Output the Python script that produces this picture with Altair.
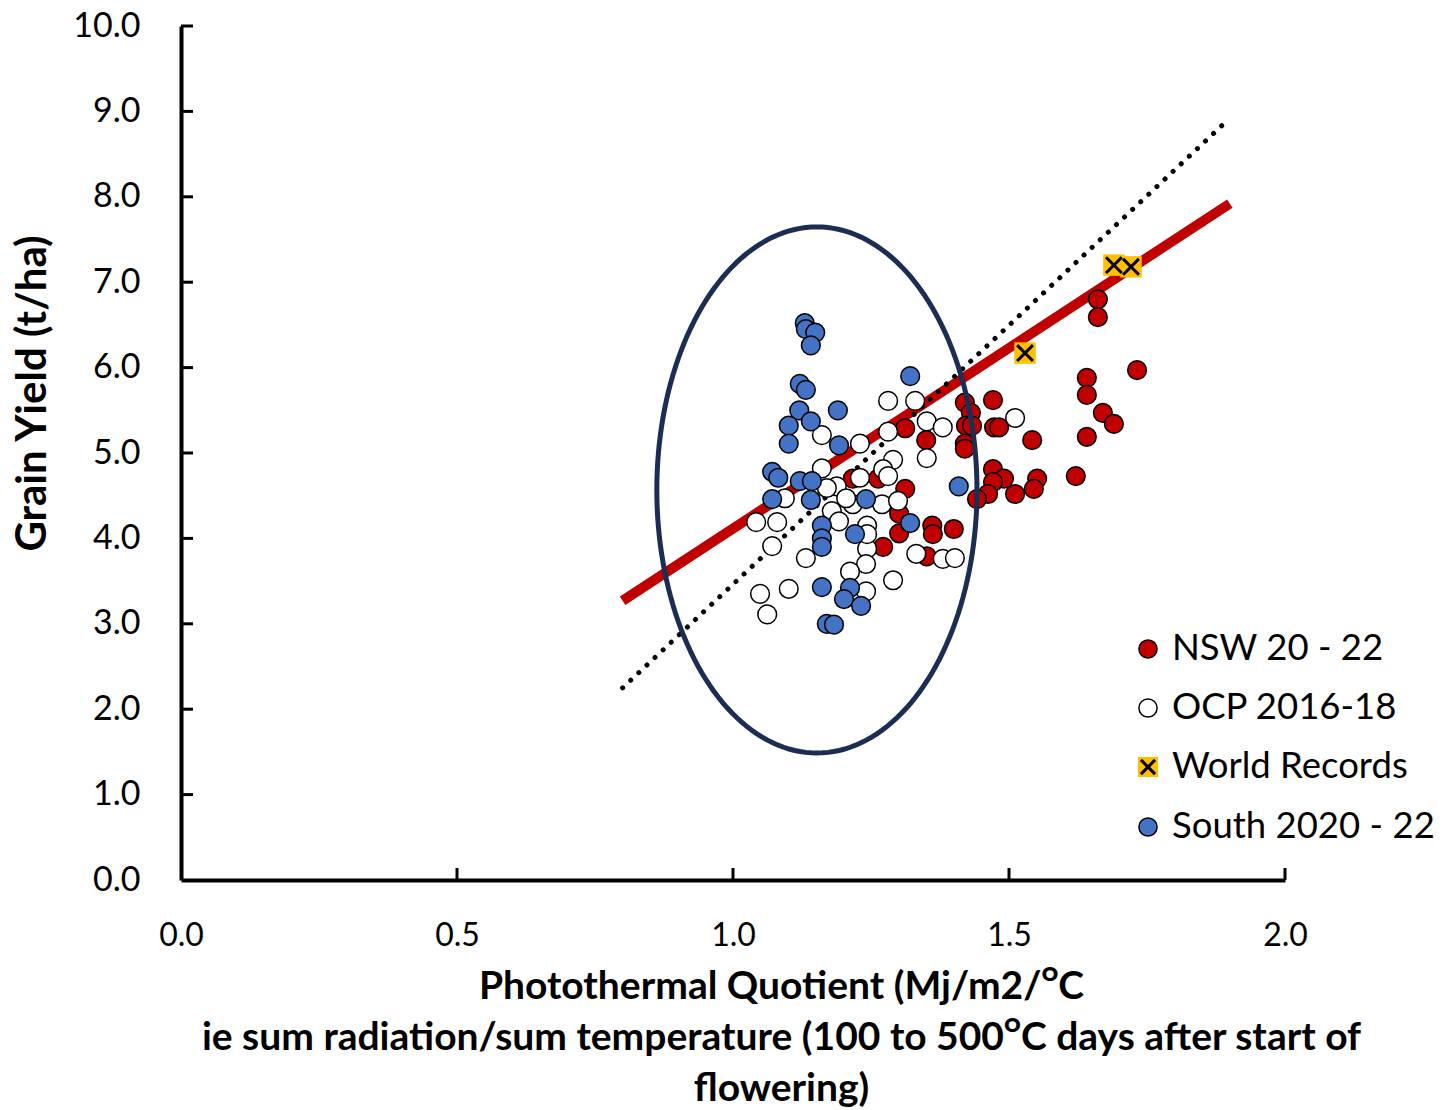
import altair as alt
import pandas as pd
import numpy as np

# ---------------- data ----------------
nsw_x = [1.312, 1.350, 1.420, 1.431, 1.422, 1.433, 1.420, 1.420, 1.471, 1.473, 1.482,
         1.542, 1.641, 1.641, 1.670, 1.690, 1.641, 1.732, 1.661, 1.661, 1.471, 1.491,
         1.471, 1.462, 1.442, 1.511, 1.551, 1.545, 1.621, 1.312, 1.301, 1.301, 1.361,
         1.362, 1.400, 1.272, 1.351, 1.217, 1.263]
nsw_y = [5.29, 5.15, 5.59, 5.47, 5.32, 5.32, 5.11, 5.05, 5.62, 5.30, 5.30,
         5.15, 5.88, 5.68, 5.47, 5.34, 5.19, 5.97, 6.80, 6.59, 4.81, 4.70,
         4.66, 4.52, 4.46, 4.52, 4.70, 4.58, 4.73, 4.58, 4.29, 4.06, 4.15,
         4.05, 4.11, 3.90, 3.79, 4.70, 4.70]

ocp_x = [1.161, 1.230, 1.161, 1.281, 1.330, 1.351, 1.380, 1.281, 1.351, 1.290, 1.272,
         1.281, 1.511, 1.230, 1.188, 1.170, 1.094, 1.042, 1.080, 1.179, 1.192, 1.217,
         1.270, 1.299, 1.243, 1.071, 1.132, 1.243, 1.241, 1.212, 1.241, 1.049, 1.101,
         1.062, 1.332, 1.380, 1.402, 1.290, 1.205, 1.243]
ocp_y = [5.21, 5.11, 4.82, 5.61, 5.61, 5.37, 5.30, 5.25, 4.94, 4.92, 4.81,
         4.73, 5.41, 4.71, 4.61, 4.59, 4.47, 4.19, 4.19, 4.32, 4.20, 4.40,
         4.40, 4.44, 4.15, 3.91, 3.77, 3.88, 3.70, 3.61, 3.38, 3.35, 3.41,
         3.11, 3.82, 3.76, 3.77, 3.51, 4.47, 4.05]

wr_x = [1.690, 1.721, 1.529]
wr_y = [7.20, 7.18, 6.17]

south_x = [1.130, 1.132, 1.149, 1.141, 1.121, 1.132, 1.120, 1.190, 1.141, 1.101, 1.101,
           1.192, 1.321, 1.071, 1.082, 1.121, 1.143, 1.071, 1.141, 1.241, 1.161, 1.161,
           1.161, 1.221, 1.161, 1.212, 1.201, 1.232, 1.170, 1.183, 1.321, 1.409]
south_y = [6.52, 6.45, 6.41, 6.26, 5.81, 5.74, 5.50, 5.50, 5.37, 5.32, 5.11,
           5.09, 5.90, 4.78, 4.71, 4.67, 4.67, 4.46, 4.45, 4.46, 4.15, 4.00,
           3.90, 4.05, 3.43, 3.42, 3.29, 3.21, 3.00, 2.99, 4.18, 4.61]

series_names = ["NSW 20 - 22", "OCP 2016-18", "World Records", "South 2020 - 22"]

trend_x = [0.80, 1.90]
trend_y = [3.27, 7.92]
dotted_x = [0.80, 1.89]
dotted_y = [2.25, 8.86]

ellipse_center = (1.152, 4.567)
ellipse_radii = (0.29, 3.08)

x_ticks = [0.0, 0.5, 1.0, 1.5, 2.0]
y_ticks = [0, 1, 2, 3, 4, 5, 6, 7, 8, 9, 10]

x_title = ["Photothermal Quotient (Mj/m2/ᴼC",
           "ie sum radiation/sum temperature (100 to 500ᴼC days after start of",
           "flowering)"]
y_title = "Grain Yield (t/ha)"

# ---------------- style ----------------
W, H = 1104, 854
FONT = "Lato"
RED, BLUE, GOLD, NAVY = "#C00000", "#4472C4", "#FFC000", "#1B2D52"

xs = alt.Scale(domain=[0, 2], nice=False, zero=False)
ys = alt.Scale(domain=[0, 10], nice=False, zero=False)

x_axis = alt.Axis(values=x_ticks, format=".1f", title=x_title,
                  labelPadding=40, labelFlush=False, labelFontSize=32,
                  titleFontSize=39, titleX=600, titleY=87, titleBaseline="top",
                  titleAlign="center", titleLineHeight=51)
y_axis = alt.Axis(values=y_ticks, format=".1f", title=y_title,
                  labelPadding=41, labelFlush=False, labelFontSize=34,
                  titleFontSize=42, titleX=-149, titleY=367, titleAlign="center",
                  titleBaseline="middle", titleAngle=270)

X = lambda: alt.X("x:Q", scale=xs, axis=x_axis)
Y = lambda: alt.Y("y:Q", scale=ys, axis=y_axis)

def pts(xv, yv):
    return pd.DataFrame({"x": xv, "y": yv})

trend = alt.Chart(pts(trend_x, trend_y)).mark_line(
    color=RED, strokeWidth=10, strokeCap="butt").encode(x=X(), y=Y())
dotted = alt.Chart(pts(dotted_x, dotted_y)).mark_line(
    color="black", strokeWidth=5, strokeCap="round", strokeDash=[0.1, 11]).encode(x=X(), y=Y())

def circles(xv, yv, fill):
    return alt.Chart(pts(xv, yv)).mark_point(
        shape="circle", filled=True, fill=fill, stroke="black", strokeWidth=1.5,
        size=350, opacity=1).encode(x=X(), y=Y())

nsw = circles(nsw_x, nsw_y, RED)
ocp = circles(ocp_x, ocp_y, "white")
south = circles(south_x, south_y, BLUE)
wr_sq = alt.Chart(pts(wr_x, wr_y)).mark_point(
    shape="square", filled=True, fill=GOLD, strokeWidth=0, size=460, opacity=1).encode(x=X(), y=Y())
XPATH = "M-1,-1L1,1M-1,1L1,-1"
wr_x_mark = alt.Chart(pts(wr_x, wr_y)).mark_point(
    shape=XPATH, filled=False, stroke="black", strokeWidth=3, size=250, opacity=1).encode(x=X(), y=Y())

t = np.linspace(0, 2 * np.pi, 181)
ell_df = pd.DataFrame({
    "x": ellipse_center[0] + ellipse_radii[0] * np.cos(t),
    "y": ellipse_center[1] + ellipse_radii[1] * np.sin(t),
    "o": np.arange(len(t)),
})
ellipse = alt.Chart(ell_df).mark_line(color=NAVY, strokeWidth=5).encode(
    x=X(), y=Y(), order="o:Q")

# inward ticks
ytick_df = pd.DataFrame({"y": y_ticks[1:]})
yticks = alt.Chart(ytick_df).mark_rule(color="black", strokeWidth=3).encode(
    y=Y(), x=alt.value(0), x2=alt.value(12))
xtick_df = pd.DataFrame({"x": x_ticks[1:]})
xticks = alt.Chart(xtick_df).mark_rule(color="black", strokeWidth=3).encode(
    x=X(), y=alt.value(H), y2=alt.value(H - 12))

# legend (manual)
leg_rows = [623, 682, 741, 801]
leg_layers = []
fills = [RED, "white", None, BLUE]
for name, fy, fc in zip(series_names, leg_rows, fills):
    d = pd.DataFrame({"label": [name]})
    if fc is None:
        leg_layers.append(alt.Chart(d).mark_point(
            shape="square", filled=True, fill=GOLD, strokeWidth=0, size=400, opacity=1).encode(
            x=alt.value(967), y=alt.value(fy)))
        leg_layers.append(alt.Chart(d).mark_point(
            shape=XPATH, filled=False, stroke="black", strokeWidth=3, size=200, opacity=1).encode(
            x=alt.value(967), y=alt.value(fy)))
    else:
        leg_layers.append(alt.Chart(d).mark_point(
            shape="circle", filled=True, fill=fc, stroke="black", strokeWidth=1.5,
            size=330, opacity=1).encode(x=alt.value(967), y=alt.value(fy)))
    leg_layers.append(alt.Chart(d).mark_text(
        align="left", baseline="middle", font=FONT, fontSize=36.5, color="black").encode(
        x=alt.value(991), y=alt.value(fy), text="label:N"))

chart = alt.layer(
    trend, dotted, nsw, ocp, wr_sq, wr_x_mark, south, ellipse, yticks, xticks,
    *leg_layers
).properties(
    width=W, height=H,
    padding={"left": 11, "top": 9, "right": 5, "bottom": 5},
).configure_view(stroke=None).configure_axis(
    grid=False, ticks=False, tickSize=0, domainColor="black", domainWidth=4,
    labelFont=FONT, labelColor="black",
    titleFont=FONT, titleFontWeight="bold", titleColor="black",
)

chart.save("out.html", embed_options={"renderer": "svg", "actions": False})
